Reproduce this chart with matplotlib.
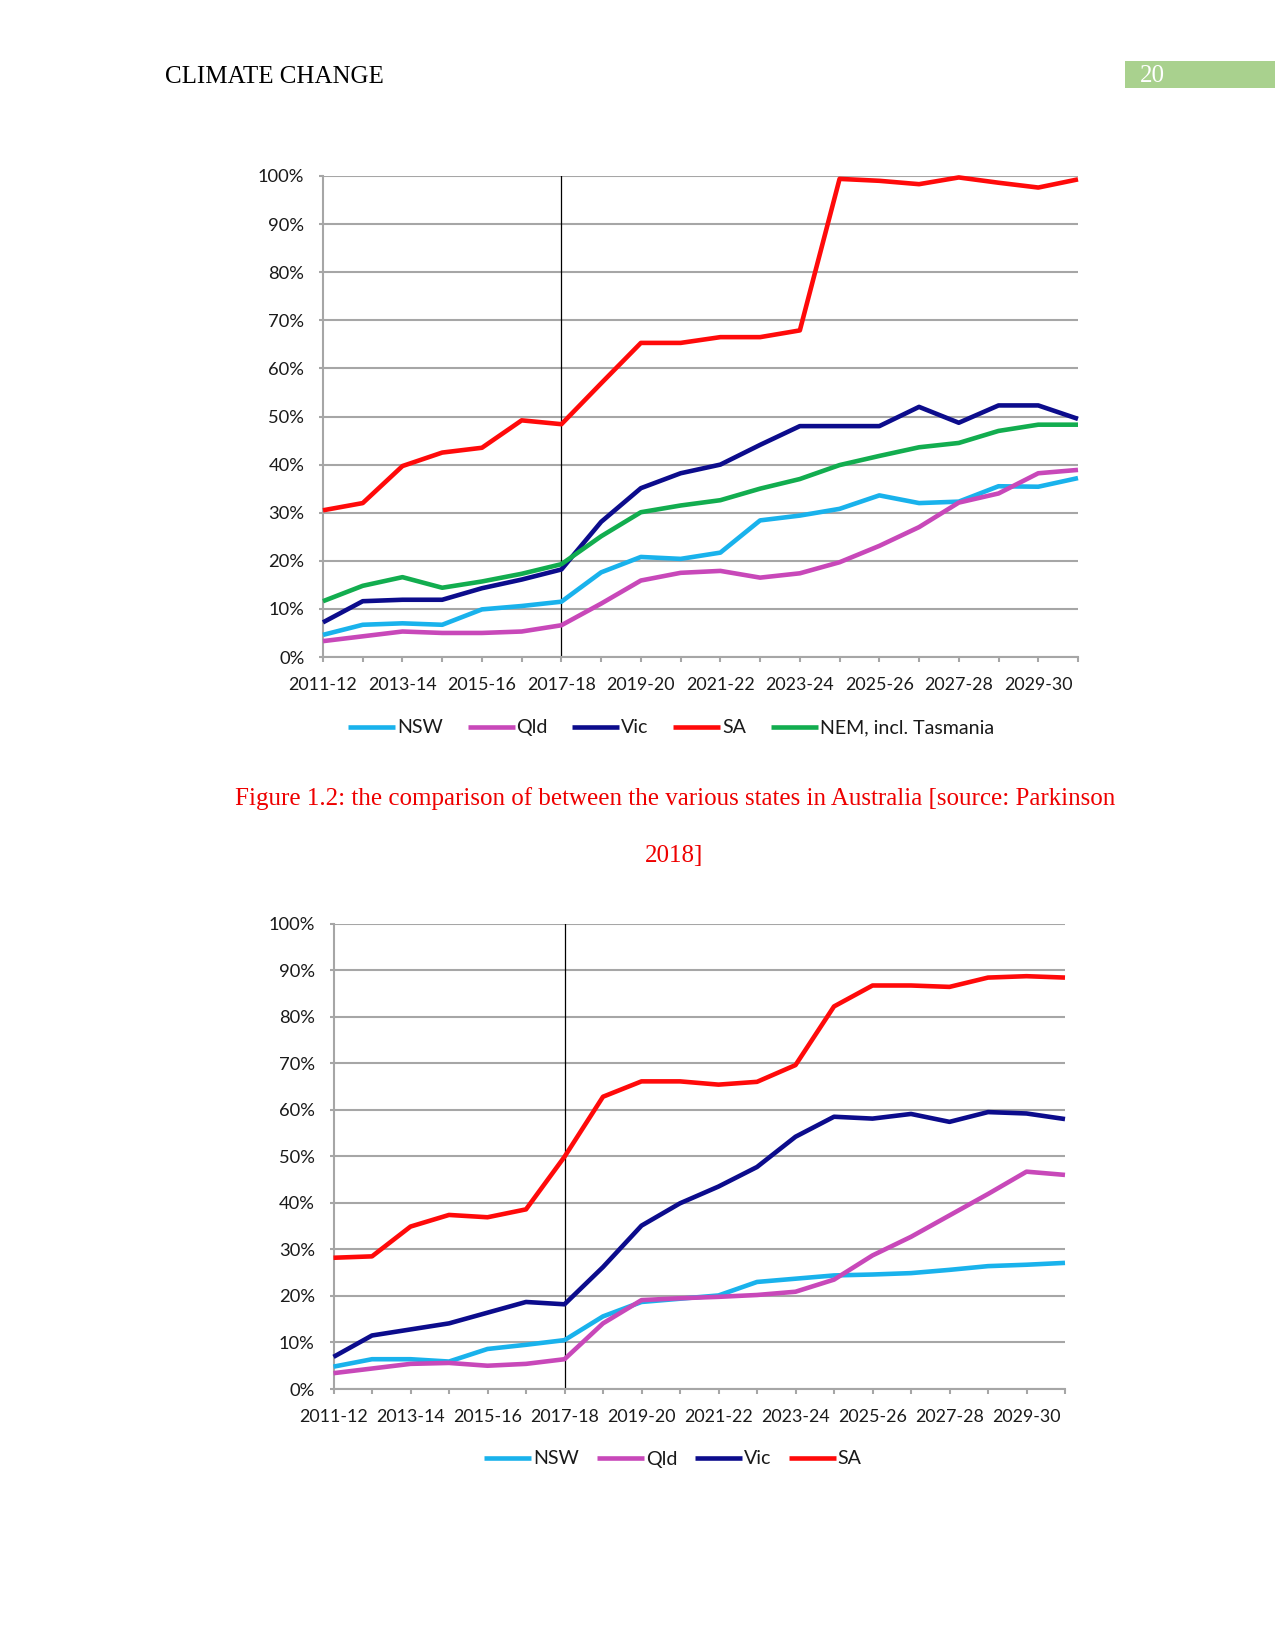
import matplotlib
matplotlib.use("Agg")
import matplotlib.pyplot as plt
from matplotlib.patches import Rectangle
from matplotlib.ticker import FuncFormatter, FixedLocator

# ---------------- data ----------------
years = ["2011-12", "2012-13", "2013-14", "2014-15", "2015-16", "2016-17", "2017-18",
         "2018-19", "2019-20", "2020-21", "2021-22", "2022-23", "2023-24", "2024-25",
         "2025-26", "2026-27", "2027-28", "2028-29", "2029-30", "2030-31"]

# Chart 1 (percent)
c1_nsw = [4.6, 6.7, 7.0, 6.7, 9.9, 10.6, 11.5, 17.6, 20.8, 20.4, 21.7, 28.4, 29.4, 30.8,
          33.6, 32.0, 32.3, 35.5, 35.4, 37.2]
c1_qld = [3.3, 4.3, 5.3, 5.0, 5.0, 5.3, 6.6, 11.1, 15.9, 17.5, 17.9, 16.5, 17.4, 19.7,
          23.1, 27.0, 32.1, 34.0, 38.2, 38.9]
c1_vic = [7.2, 11.6, 11.9, 11.9, 14.3, 16.1, 18.2, 28.1, 35.1, 38.2, 40.0, 44.1, 48.0,
          48.0, 48.0, 52.0, 48.7, 52.3, 52.3, 49.5]
c1_sa = [30.5, 32.0, 39.7, 42.5, 43.5, 49.2, 48.4, 56.9, 65.3, 65.3, 66.5, 66.5, 67.9,
         99.4, 99.0, 98.3, 99.7, 98.6, 97.6, 99.3]
c1_nem = [11.6, 14.8, 16.6, 14.4, 15.7, 17.3, 19.3, 25.1, 30.1, 31.5, 32.6, 35.0, 37.0,
          39.9, 41.8, 43.6, 44.5, 47.0, 48.3, 48.3]

# Chart 2 (percent)
c2_nsw = [4.8, 6.4, 6.4, 5.9, 8.6, 9.5, 10.5, 15.6, 18.7, 19.4, 20.1, 23.0, 23.7, 24.4,
          24.6, 24.9, 25.6, 26.4, 26.7, 27.1]
c2_qld = [3.4, 4.4, 5.4, 5.6, 5.0, 5.4, 6.4, 14.1, 19.1, 19.5, 19.8, 20.2, 20.9, 23.5,
          28.7, 32.7, 37.3, 41.9, 46.7, 46.0]
c2_vic = [6.9, 11.5, 12.8, 14.1, 16.4, 18.7, 18.2, 26.2, 35.1, 39.9, 43.5, 47.7, 54.2,
          58.5, 58.1, 59.1, 57.4, 59.5, 59.2, 58.0]
c2_sa = [28.2, 28.5, 34.9, 37.4, 36.9, 38.6, 49.9, 62.8, 66.1, 66.1, 65.4, 66.0, 69.6,
         82.2, 86.7, 86.7, 86.4, 88.4, 88.7, 88.4]

series_names1 = ["NSW", "Qld", "Vic", "SA", "NEM, incl. Tasmania"]
series_names2 = ["NSW", "Qld", "Vic", "SA"]
marker_year = "2017-18"
header_text = "CLIMATE CHANGE"
page_number = "20"
caption_1 = "Figure 1.2: the comparison of between the various states in Australia [source: Parkinson"
caption_2 = "2018]"

# ---------------- styling ----------------
colors = {"NSW": "#19b2ec", "Qld": "#c848b9", "Vic": "#0c0c8c", "SA": "#ff0a0a",
          "NEM, incl. Tasmania": "#12ad4f"}
grid_col = "#a6a6a6"
txt_col = "#1a1a1a"
tick_font = "Lato"

W, H = 1275, 1650
fig = plt.figure(figsize=(W / 150, H / 150), dpi=150)
fig.patch.set_facecolor("white")


def fx(px):
    return px / W


def fy(py):
    return 1 - py / H


def make_chart(rect, data, names, legend_center, colspace):
    ax = fig.add_axes(rect)
    x = list(range(len(years)))
    for nm, vals in zip(names, data):
        ax.plot(x, [v / 100 for v in vals], color=colors[nm], lw=2.2, label=nm,
                solid_joinstyle="round", solid_capstyle="butt", clip_on=False, zorder=3)
    ax.set_xlim(0, len(years) - 1)
    ax.set_ylim(0, 1)
    ax.set_yticks([i / 10 for i in range(11)])
    ax.yaxis.set_major_formatter(FuncFormatter(lambda v, p: f"{v*100:.0f}%"))
    ax.grid(axis="y", color=grid_col, lw=1.0, zorder=1)
    ax.set_axisbelow(True)
    ax.xaxis.set_major_locator(FixedLocator(x))
    ax.set_xticklabels([y if i % 2 == 0 else "" for i, y in enumerate(years)])
    for s in ["top", "right"]:
        ax.spines[s].set_visible(False)
    for s in ["left", "bottom"]:
        ax.spines[s].set_color(grid_col)
        ax.spines[s].set_linewidth(1.0)
    ax.tick_params(axis="y", length=2.0, width=1.0, color=grid_col, pad=7,
                   labelsize=8.8, labelcolor=txt_col)
    ax.tick_params(axis="x", length=2.5, width=1.0, color=grid_col, pad=7,
                   labelsize=8.6, labelcolor=txt_col)
    for lab in ax.get_xticklabels() + ax.get_yticklabels():
        lab.set_fontfamily(tick_font)
    xi = years.index(marker_year)
    ax.axvline(xi, ymin=0, ymax=1, color="black", lw=0.6, zorder=2)
    fig.legend(handles=ax.get_lines(), labels=names, loc="center",
               bbox_to_anchor=legend_center, ncol=len(names), frameon=False,
               handlelength=2.4, handletextpad=0.1, columnspacing=colspace,
               prop={"family": tick_font, "size": 9.4}, labelcolor=txt_col)
    return ax


make_chart([fx(323), fy(657), fx(1078 - 323), (657 - 176) / H],
           [c1_nsw, c1_qld, c1_vic, c1_sa, c1_nem], series_names1,
           (fx(671), fy(728)), 1.25)
make_chart([fx(333.5), fy(1389), fx(1065 - 333.5), (1389 - 923.6) / H],
           [c2_nsw, c2_qld, c2_vic, c2_sa], series_names2,
           (fx(673), fy(1459)), 0.9)

# header
fig.text(fx(165), fy(77), header_text, family="Liberation Serif", fontsize=12,
         color="black", va="center", ha="left")
fig.patches.append(Rectangle((fx(1125), fy(88)), fx(150), (88 - 61) / H,
                             transform=fig.transFigure, facecolor="#a9d18e",
                             edgecolor="none"))
fig.text(fx(1140), fy(76), page_number, family="Liberation Serif", fontsize=12,
         color="white", va="center", ha="left")

# caption
fig.text(fx(675), fy(799), caption_1, family="Liberation Serif", fontsize=12,
         color="#ee0000", va="center", ha="center")
fig.text(fx(674), fy(856), caption_2, family="Liberation Serif", fontsize=12,
         color="#ee0000", va="center", ha="center")

fig.savefig("out.png", dpi=150, facecolor="white")
